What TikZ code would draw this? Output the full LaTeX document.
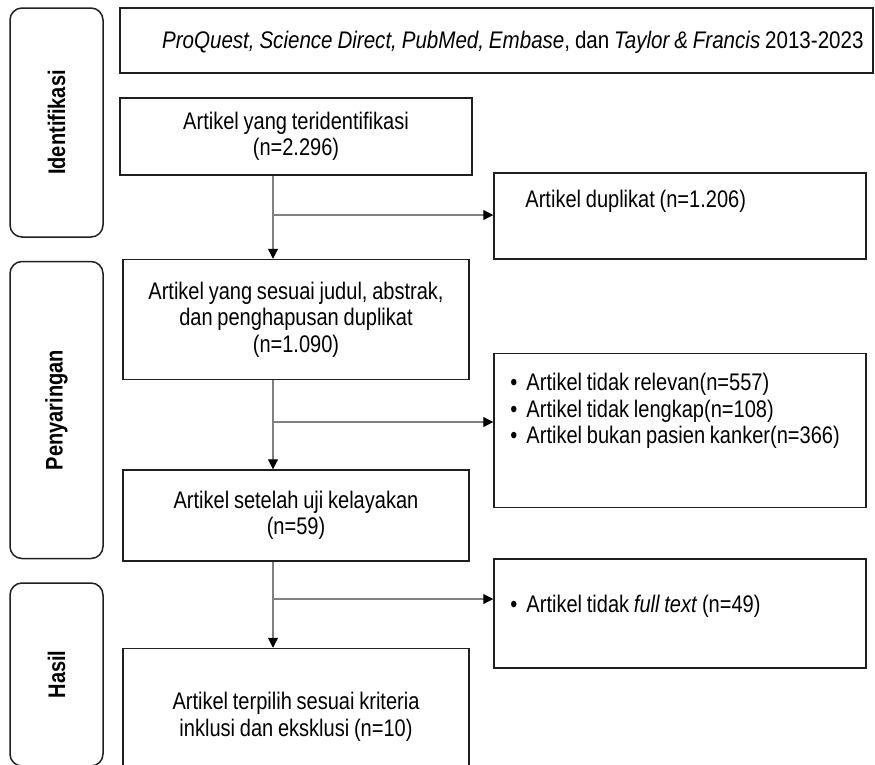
\documentclass[tikz,border=0pt]{standalone}
\usepackage{fontspec}
\setmainfont{Liberation Sans}[FakeStretch=0.835,WordSpace=0.85]
\usetikzlibrary{positioning,arrows.meta}

\begin{document}
\begin{tikzpicture}[x=1pt,y=-1pt,>={Triangle[length=10pt,width=10pt,color=black,fill=black]},
  every node/.style={font=\fontsize{24}{26.5}\selectfont},
  box/.style={draw=black!88,line width=1.5pt,inner sep=0pt,align=center},
  side/.style={box,rounded corners=12pt,minimum width=93pt,font=\fontsize{24}{26.5}\selectfont\bfseries},
  txt/.style={inner sep=0pt,align=left},
  link/.style={color=black!50,line width=1.1pt}]
\useasboundingbox (0,0) rectangle (875,764);
% fase
\node[side,minimum height=229pt] (sid) at (56.5,122.5) {\rotatebox{90}{Identifikasi}};
\node[side,minimum height=297pt,below=23pt of sid] (spen) {\rotatebox{90}{Penyaringan}};
\node[side,minimum height=183pt,below=23pt of spen] (shas) {\rotatebox{90}{Hasil}};
% alur utama
\node[box,minimum width=753pt,minimum height=65pt] (src) at (496.5,40.5) {};
\node[txt,anchor=east,font=\fontsize{24}{26.5}\selectfont\addfontfeatures{FakeStretch=0.857}] (srct) at ([xshift=-10pt,yshift=-1.5pt]src.east) {\textit{ProQuest, Science Direct, PubMed, Embase}, dan \textit{Taylor \& Francis} 2013-2023};
\node[box,minimum width=352pt,minimum height=77pt] (b1) at (296,136.5) {Artikel yang teridentifikasi\\(n=2.296)};
\node[box,minimum width=346pt,minimum height=120pt,below=83pt of b1] (b2) {Artikel yang sesuai judul, abstrak,\\dan penghapusan duplikat\\(n=1.090)};
\node[box,minimum width=346pt,minimum height=91pt,below=89pt of b2] (b3) {Artikel setelah uji kelayakan\\(n=59)};
\node[box,minimum width=346pt,minimum height=137pt,below=86pt of b3] (b4) {Artikel terpilih sesuai kriteria\\inklusi dan eksklusi (n=10)};
% dikeluarkan
\node[box,minimum width=372pt,minimum height=86pt] (dup) at (680,216) {};
\node[box,minimum width=372pt,minimum height=154pt,below=93pt of dup] (ex2) {};
\node[box,minimum width=372pt,minimum height=109pt,below=50pt of ex2] (ex3) {};
\node[txt,anchor=base west] (dupt) at ([xshift=32pt,yshift=-35pt]dup.north west) {Artikel duplikat (n=1.206)};
\node[txt,anchor=north west] (ex2t) at ([xshift=17pt,yshift=-20.5pt]ex2.north west) {\textbullet\hspace{9pt}Artikel tidak relevan(n=557)\\\textbullet\hspace{9pt}Artikel tidak lengkap(n=108)\\\textbullet\hspace{9pt}Artikel bukan pasien kanker(n=366)};
\node[txt,anchor=base west] (ex3t) at ([xshift=17pt,yshift=-54pt]ex3.north west) {\textbullet\hspace{9pt}Artikel tidak \textit{full text} (n=49)};
% garis
\coordinate (spine) at (273,0); \coordinate (j1) at (273,215); \coordinate (j2) at (273,422); \coordinate (j3) at (273,599);
\path[link,->] (b1.south -| spine) edge (b2.north -| spine) (b2.south -| spine) edge (b3.north -| spine) (b3.south -| spine) edge (b4.north -| spine)
(j1) edge (j1 -| dup.west) (j2) edge (j2 -| ex2.west) (j3) edge (j3 -| ex3.west);
\end{tikzpicture}
\end{document}
